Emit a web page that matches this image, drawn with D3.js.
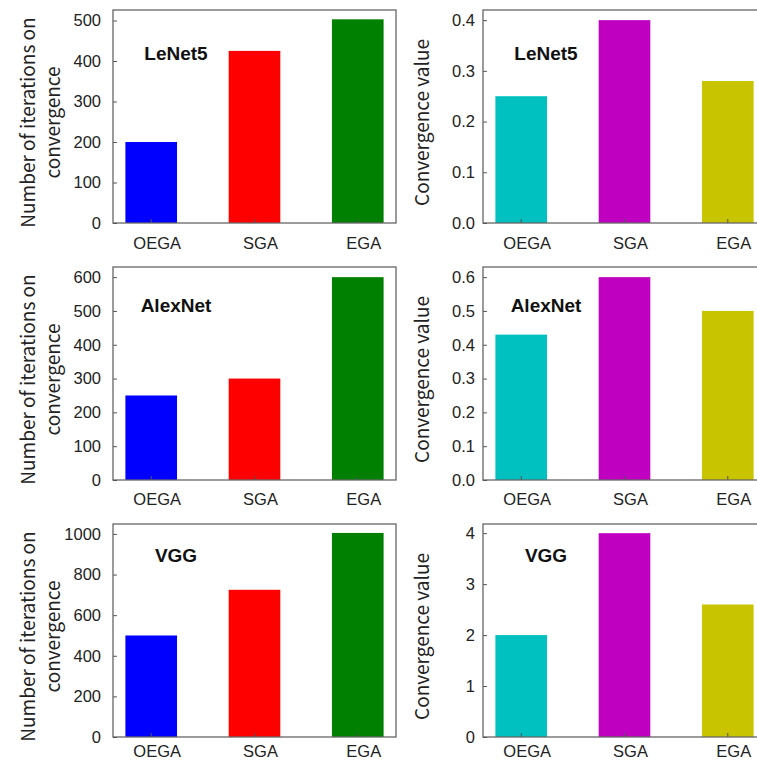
<!DOCTYPE html>
<html>
<head>
<meta charset="utf-8">
<script src="https://cdn.jsdelivr.net/npm/d3@7"></script>
<style>
  body { margin: 0; background: #fff; }
  svg { display: block; font-family: "Noto Sans CJK SC", "Noto Sans", sans-serif; }
  .tick text { fill: #222; }
</style>
</head>
<body>
<div id="chart"></div>
<script>
// data
const algorithms = ["OEGA", "SGA", "EGA"];
const networks = ["LeNet5", "AlexNet", "VGG"];

const lenetIterations = [200, 425, 503];
const alexnetIterations = [250, 300, 600];
const vggIterations = [500, 725, 1005];

const lenetConvergence = [0.25, 0.40, 0.28];
const alexnetConvergence = [0.43, 0.60, 0.50];
const vggConvergence = [2.0, 4.0, 2.6];

const iterTicks = [
  [0, 100, 200, 300, 400, 500],
  [0, 100, 200, 300, 400, 500, 600],
  [0, 200, 400, 600, 800, 1000]
];
const convTicks = [
  [0, 0.1, 0.2, 0.3, 0.4],
  [0, 0.1, 0.2, 0.3, 0.4, 0.5, 0.6],
  [0, 1, 2, 3, 4]
];
const iterMax = [526, 630, 1049];
const convMax = [0.42, 0.63, 4.18];
const convFormat = [".1f", ".1f", "d"];

const iterColors = ["#0000ff", "#ff0000", "#008000"];
const convColors = ["#00c0c0", "#c000c0", "#c8c400"];

const iterValues = [lenetIterations, alexnetIterations, vggIterations];
const convValues = [lenetConvergence, alexnetConvergence, vggConvergence];

////////////////////////////////////////////////////////////////////
// layout
const width = 757;
const height = 764;
const panelW = 283;
const panelH = 213;
const colX = [113, 483];
const rowY = [10, 267, 524];
const titleDy = [50, 45, 38];
const xLabelDy = [26, 25, 20];

const svg = d3.select("#chart").append("svg")
  .attr("width", width)
  .attr("height", height);

function drawPanel(x0, y0, row, values, colors, yMax, ticks, fmt, isLeft) {
  const g = svg.append("g").attr("transform", `translate(${x0}, ${y0})`);

  const xScale = d3.scaleBand()
    .domain(algorithms)
    .range([0, panelW])
    .paddingInner(0.5)
    .paddingOuter(0.12);

  const yScale = d3.scaleLinear()
    .domain([0, yMax])
    .range([panelH, 0]);

  // bars
  g.selectAll("rect.bar")
    .data(values)
    .join("rect")
    .attr("class", "bar")
    .attr("x", (d, i) => xScale(algorithms[i]))
    .attr("y", (d) => yScale(d))
    .attr("width", xScale.bandwidth())
    .attr("height", (d) => panelH - yScale(d))
    .attr("fill", (d, i) => colors[i]);

  // frame
  g.append("rect")
    .attr("x", 0)
    .attr("y", 0)
    .attr("width", panelW)
    .attr("height", panelH)
    .attr("fill", "none")
    .attr("stroke", "#666")
    .attr("stroke-width", 1.3);

  // y axis
  const yAxis = d3.axisLeft(yScale)
    .tickValues(ticks)
    .tickFormat(d3.format(fmt))
    .tickSize(-4)
    .tickPadding(isLeft ? 12 : 8);

  g.append("g")
    .attr("class", "y-axis")
    .call(yAxis)
    .call((a) => a.select(".domain").remove())
    .call((a) => a.selectAll(".tick line").attr("stroke", "#555"))
    .call((a) => a.selectAll(".tick text").attr("font-size", 16.5));

  // x axis
  const xAxis = d3.axisBottom(xScale)
    .tickSize(-4)
    .tickPadding(0);

  g.append("g")
    .attr("class", "x-axis")
    .attr("transform", `translate(0, ${panelH})`)
    .call(xAxis)
    .call((a) => a.select(".domain").remove())
    .call((a) => a.selectAll(".tick line").attr("stroke", "#555"))
    .call((a) => a.selectAll(".tick text")
      .attr("font-size", 16.5)
      .attr("dy", null)
      .attr("y", xLabelDy[row])
      .attr("x", 6));

  // title
  g.append("text")
    .attr("x", 63)
    .attr("y", titleDy[row])
    .attr("text-anchor", "middle")
    .attr("font-family", "'Liberation Sans', Arial, sans-serif")
    .attr("font-size", 19)
    .attr("font-weight", "bold")
    .attr("fill", "#111")
    .text(networks[row]);

  // y label
  const cy = panelH / 2 + 6;
  if (isLeft) {
    const lbl = g.append("text")
      .attr("transform", `translate(-85, ${cy}) rotate(-90)`)
      .attr("text-anchor", "middle")
      .attr("font-size", 19)
      .attr("fill", "#222");
    lbl.append("tspan").attr("x", 0).attr("dy", "0.35em").text("Number of iterations on");
    lbl.append("tspan").attr("x", 0).attr("dy", 25).text("convergence");
  } else {
    g.append("text")
      .attr("transform", `translate(-61, ${cy}) rotate(-90)`)
      .attr("text-anchor", "middle")
      .attr("dy", "0.35em")
      .attr("font-size", 19)
      .attr("fill", "#222")
      .text("Convergence value");
  }
}

rowY.forEach((y0, row) => {
  drawPanel(colX[0], y0, row, iterValues[row], iterColors, iterMax[row], iterTicks[row], "d", true);
  drawPanel(colX[1], y0, row, convValues[row], convColors, convMax[row], convTicks[row], convFormat[row], false);
});
</script>
</body>
</html>
